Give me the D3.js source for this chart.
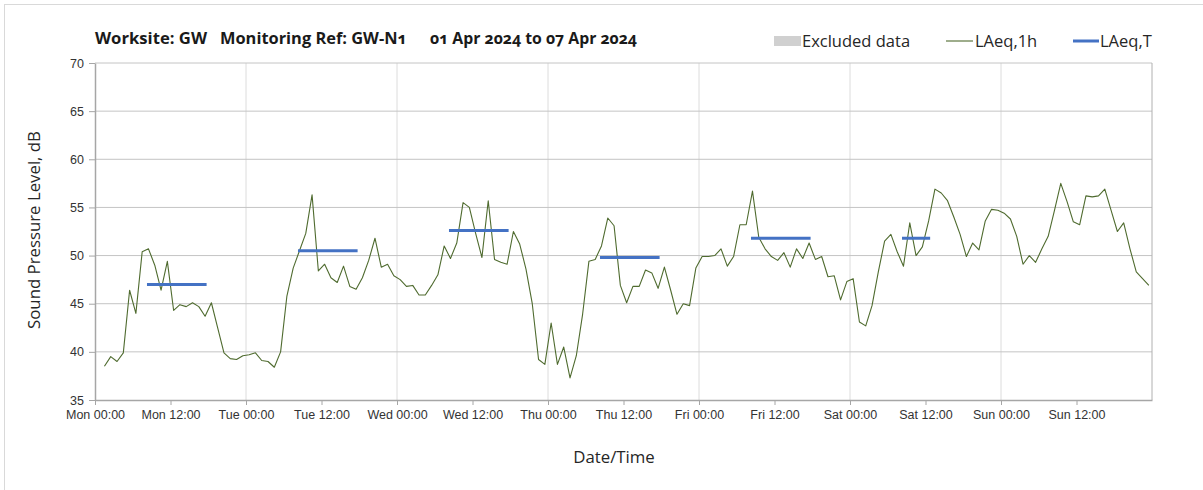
<!DOCTYPE html>
<html>
<head>
<meta charset="utf-8">
<script src="https://cdn.jsdelivr.net/npm/d3@7"></script>
<style>
  body { margin: 0; background: #fff; }
  svg { display: block; font-family: "Open Sans", "Noto Sans", sans-serif; }
  .tick text { font-size: 12.5px; fill: #333; font-variant-numeric: oldstyle-nums; }
  .title { font-size: 16px; font-weight: bold; fill: #1a1a1a; font-variant-numeric: oldstyle-nums; }
  .legend text { font-size: 16.5px; fill: #262626; }
  .axis-title { font-size: 16.8px; fill: #262626; }
</style>
</head>
<body>
<div id="chart"></div>
<script>
// LAeq,1h readings, one per hour, first one stamped Mon 01:30
const laeq1h = [
  38.5, 39.5, 39.0, 39.9, 46.4, 44.0, 50.4, 50.7, 49.0, 46.4, 49.4, 44.3,
  44.9, 44.7, 45.1, 44.7, 43.7, 45.1, 42.5, 39.9, 39.3, 39.2, 39.6, 39.7,
  39.9, 39.1, 39.0, 38.4, 40.0, 45.8, 48.7, 50.5, 52.3, 56.3, 48.4, 49.1,
  47.7, 47.2, 48.9, 46.8, 46.5, 47.7, 49.5, 51.8, 48.8, 49.1, 47.9, 47.5,
  46.8, 46.9, 45.9, 45.9, 46.9, 48.0, 51.0, 49.7, 51.3, 55.5, 55.0, 52.3,
  49.8, 55.7, 49.6, 49.3, 49.1, 52.5, 51.2, 48.6, 45.0, 39.2, 38.7, 43.0,
  38.7, 40.5, 37.3, 39.6, 43.9, 49.4, 49.6, 51.0, 53.9, 53.1, 46.9, 45.1,
  46.8, 46.8, 48.5, 48.2, 46.6, 48.8, 46.4, 43.9, 45.0, 44.8, 48.7, 49.9,
  49.9, 50.0, 50.7, 48.9, 49.9, 53.2, 53.2, 56.7, 51.9, 50.7, 49.9, 49.5,
  50.3, 48.8, 50.7, 49.7, 51.3, 49.6, 49.9, 47.8, 47.9, 45.4, 47.3, 47.6,
  43.1, 42.7, 44.8, 48.3, 51.5, 52.2, 50.4, 48.9, 53.4, 50.0, 50.9, 53.6,
  56.9, 56.5, 55.7, 54.0, 52.2, 49.9, 51.3, 50.6, 53.6, 54.8, 54.7, 54.4,
  53.8, 52.0, 49.1, 50.0, 49.3, 50.7, 52.0, 54.7, 57.5, 55.6, 53.5, 53.2,
  56.2, 56.1, 56.2, 56.9, 54.7, 52.5, 53.4, 50.7, 48.3, 47.6, 46.9
];

// LAeq,T daytime periods: day index, first and last hour stamp, level
const laeqTDays = [0, 1, 2, 3, 4, 5];
const laeqTFrom = [8.5, 8.5, 8.5, 8.5, 8.5, 8.5];
const laeqTTo = [17.5, 17.5, 17.5, 17.5, 17.5, 12.5];
const laeqTValues = [47.0, 50.5, 52.6, 49.8, 51.8, 51.8];

const excluded = []; // no excluded periods this week

const titleParts = ["Worksite: GW", "Monitoring Ref: GW-N1", "01 Apr 2024 to 07 Apr 2024"];
const legendLabels = ["Excluded data", "LAeq,1h", "LAeq,T"];
const yTicks = [35, 40, 45, 50, 55, 60, 65, 70];

const width = 1203, height = 490;
const margin = { top: 63, right: 51, bottom: 90, left: 95 };

const start = Date.UTC(2024, 3, 1, 0, 0);
const hour = 3600 * 1000;
const firstStamp = start + 1.5 * hour;

const points = laeq1h.map((v, i) => ({ date: new Date(firstStamp + i * hour), value: v }));

const svg = d3.select("#chart").append("svg")
  .attr("width", width)
  .attr("height", height);

// outer chart border
svg.append("rect")
  .attr("x", 4.5).attr("y", 4.5)
  .attr("width", 1220).attr("height", 520)
  .attr("fill", "none")
  .attr("stroke", "#d9d9d9");

const x = d3.scaleUtc()
  .domain([new Date(start), new Date(start + 7 * 24 * hour)])
  .range([margin.left, width - margin.right]);

const y = d3.scaleLinear()
  .domain([35, 70])
  .range([height - margin.bottom, margin.top]);

// vertical grid at midnight
const midnights = d3.utcDay.range(new Date(start + hour), new Date(start + 7 * 24 * hour));
svg.append("g").selectAll("line")
  .data(midnights)
  .enter().append("line")
  .attr("x1", d => x(d)).attr("x2", d => x(d))
  .attr("y1", y(70)).attr("y2", y(35))
  .attr("stroke", "#dcdcdc");

// horizontal grid
svg.append("g").selectAll("line")
  .data(yTicks.filter(d => d > 35))
  .enter().append("line")
  .attr("x1", x.range()[0]).attr("x2", x.range()[1])
  .attr("y1", d => y(d)).attr("y2", d => y(d))
  .attr("stroke", "#c4c4c4");

// right border
svg.append("line")
  .attr("x1", x.range()[1]).attr("x2", x.range()[1])
  .attr("y1", y(70)).attr("y2", y(35))
  .attr("stroke", "#b0b0b0");

// x axis, ticks every 12 hours
const xTickValues = d3.utcHour.every(12).range(new Date(start), new Date(start + 7 * 24 * hour));
const xAxis = svg.append("g")
  .attr("transform", "translate(0," + y(35) + ")")
  .call(d3.axisBottom(x)
    .tickValues(xTickValues)
    .tickFormat(d3.utcFormat("%a %H:%M"))
    .tickSize(5)
    .tickSizeOuter(0));
xAxis.select(".domain").attr("stroke", "#a6a6a6").attr("stroke-width", 1.5);
xAxis.selectAll(".tick line").attr("stroke", "#a6a6a6");
xAxis.selectAll(".tick text").attr("dy", "0.9em");

// y axis
const yAxis = svg.append("g")
  .attr("transform", "translate(" + margin.left + ",0)")
  .call(d3.axisLeft(y).tickValues(yTicks).tickSize(6).tickSizeOuter(0));
yAxis.select(".domain").attr("stroke", "#a6a6a6").attr("stroke-width", 1.5);
yAxis.selectAll(".tick line").attr("stroke", "#a6a6a6");
yAxis.selectAll(".tick text").attr("x", -11);

// excluded data (none)
svg.append("g").selectAll("rect")
  .data(excluded)
  .enter().append("rect")
  .attr("x", d => x(d[0])).attr("width", d => x(d[1]) - x(d[0]))
  .attr("y", y(70)).attr("height", y(35) - y(70))
  .attr("fill", "#d0d0d0");

// LAeq,1h line
const line = d3.line()
  .x(d => x(d.date))
  .y(d => y(d.value));

svg.append("path")
  .datum(points)
  .attr("d", line)
  .attr("fill", "none")
  .attr("stroke", "#4f6b2f")
  .attr("stroke-width", 1.1)
  .attr("stroke-linejoin", "round");

// LAeq,T segments
svg.append("g").selectAll("line")
  .data(laeqTValues)
  .enter().append("line")
  .attr("x1", (d, i) => x(new Date(start + (laeqTDays[i] * 24 + laeqTFrom[i]) * hour)))
  .attr("x2", (d, i) => x(new Date(start + (laeqTDays[i] * 24 + laeqTTo[i]) * hour)))
  .attr("y1", d => y(d)).attr("y2", d => y(d))
  .attr("stroke", "#4472c4")
  .attr("stroke-width", 3)
  .attr("stroke-linecap", "square");

// title
const titleX = [95, 220, 430];
const titleW = [112, 187, 207];
svg.append("g").selectAll("text")
  .data(titleParts)
  .enter().append("text")
  .attr("class", "title")
  .attr("x", (d, i) => titleX[i])
  .attr("y", 44)
  .attr("textLength", (d, i) => titleW[i])
  .attr("lengthAdjust", "spacingAndGlyphs")
  .text(d => d);

// legend
const legend = svg.append("g").attr("class", "legend");
legend.append("rect")
  .attr("x", 774).attr("y", 36).attr("width", 27).attr("height", 10)
  .attr("fill", "#d0d0d0");
legend.append("line")
  .attr("x1", 946).attr("x2", 973).attr("y1", 41).attr("y2", 41)
  .attr("stroke", "#4f6b2f").attr("stroke-width", 1.1);
legend.append("line")
  .attr("x1", 1073).attr("x2", 1099).attr("y1", 41).attr("y2", 41)
  .attr("stroke", "#4472c4").attr("stroke-width", 3);
const legendX = [802, 975, 1100];
legend.selectAll("text")
  .data(legendLabels)
  .enter().append("text")
  .attr("x", (d, i) => legendX[i])
  .attr("y", 47)
  .text(d => d);

// axis titles
svg.append("text")
  .attr("class", "axis-title")
  .attr("text-anchor", "middle")
  .attr("x", 614).attr("y", 463)
  .text("Date/Time");

svg.append("text")
  .attr("class", "axis-title")
  .attr("text-anchor", "middle")
  .attr("transform", "translate(40,230) rotate(-90)")
  .text("Sound Pressure Level, dB");
</script>
</body>
</html>
